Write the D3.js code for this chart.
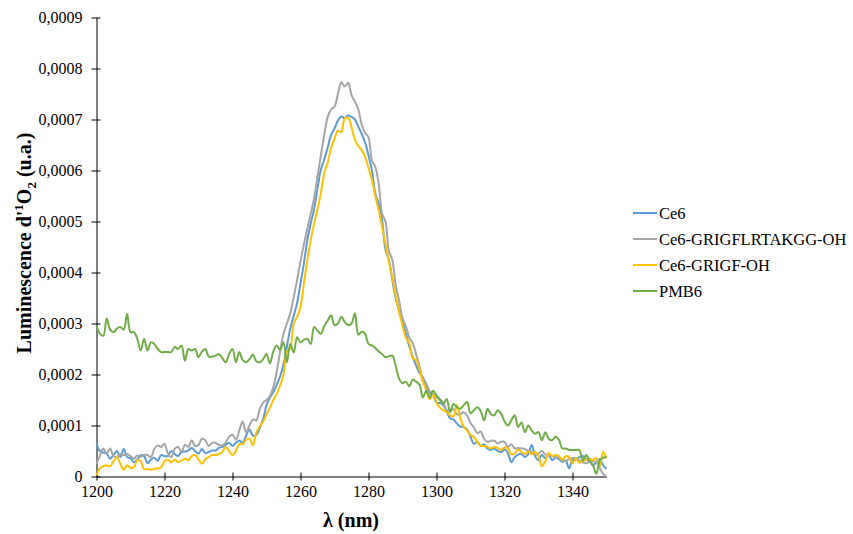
<!DOCTYPE html>
<html>
<head>
<meta charset="utf-8">
<script src="https://cdn.jsdelivr.net/npm/d3@7"></script>
<style>
  html, body { margin: 0; padding: 0; background: #fff; }
  svg { display: block; font-family: "Liberation Serif", "Times New Roman", serif; }
</style>
</head>
<body>
<svg id="chart" width="853" height="534"></svg>
<script>
// Wavelength grid (nm): 1200 .. 1350, 1 nm step
const lambdaStart = 1200;
const lambdaEnd = 1350;

// Series values, in units of 1e-4 (u.a.), one per nm from 1200 to 1350
const ce6 = [
  0.64,0.50,0.47,0.45,0.35,0.42,0.50,0.38,0.54,0.38,
  0.36,0.28,0.33,0.42,0.40,0.26,0.33,0.37,0.31,0.42,
  0.40,0.40,0.50,0.44,0.40,0.48,0.49,0.51,0.56,0.50,
  0.45,0.54,0.46,0.48,0.51,0.51,0.56,0.58,0.62,0.66,
  0.60,0.66,0.70,0.67,0.80,0.92,0.80,0.82,0.95,1.12,
  1.40,1.55,1.65,1.80,1.96,2.20,2.55,2.90,3.15,3.40,
  3.78,4.18,4.63,4.96,5.24,5.65,6.02,6.22,6.45,6.70,
  6.82,6.98,7.06,7.02,7.08,7.05,7.00,6.86,6.72,6.55,
  6.30,6.00,5.55,5.35,5.02,4.45,4.25,3.85,3.50,3.25,
  3.03,2.80,2.55,2.35,2.18,2.03,1.94,1.78,1.64,1.59,
  1.45,1.44,1.40,1.28,1.14,1.12,1.04,0.98,0.97,0.92,
  0.78,0.64,0.68,0.60,0.63,0.55,0.52,0.55,0.50,0.48,
  0.53,0.46,0.28,0.38,0.43,0.45,0.38,0.44,0.62,0.40,
  0.32,0.42,0.36,0.42,0.32,0.37,0.34,0.29,0.31,0.16,
  0.32,0.33,0.38,0.40,0.34,0.31,0.22,0.28,0.34,0.22,
  0.15
];
const ce6Grigflrtakgg = [
  0.25,0.40,0.55,0.45,0.55,0.40,0.38,0.44,0.42,0.44,
  0.40,0.35,0.41,0.39,0.42,0.42,0.38,0.54,0.61,0.58,
  0.64,0.45,0.38,0.54,0.58,0.48,0.62,0.58,0.71,0.60,
  0.62,0.74,0.71,0.60,0.66,0.66,0.62,0.61,0.67,0.78,
  0.82,0.72,0.90,1.08,0.86,1.00,1.12,1.10,1.32,1.45,
  1.50,1.58,1.75,2.05,2.45,2.80,3.00,3.20,3.52,3.85,
  4.22,4.55,4.86,5.15,5.45,5.88,6.30,6.70,7.05,7.20,
  7.25,7.50,7.73,7.65,7.72,7.48,7.35,7.20,6.90,6.74,
  6.65,6.20,6.07,5.74,5.15,5.00,4.42,4.25,3.75,3.45,
  3.10,2.95,2.72,2.62,2.40,2.16,1.92,1.82,1.67,1.62,
  1.55,1.52,1.45,1.30,1.30,1.32,1.22,1.22,1.26,1.20,
  1.05,0.96,0.85,0.88,0.74,0.68,0.70,0.70,0.65,0.68,
  0.68,0.58,0.63,0.55,0.56,0.55,0.54,0.50,0.48,0.42,
  0.45,0.50,0.43,0.42,0.40,0.38,0.36,0.34,0.31,0.34,
  0.36,0.36,0.31,0.28,0.26,0.29,0.30,0.28,0.17,0.05,
  0.00
];
const ce6Grigf = [
  0.02,0.16,0.20,0.22,0.20,0.30,0.38,0.25,0.13,0.22,
  0.17,0.18,0.32,0.30,0.14,0.15,0.13,0.15,0.16,0.18,
  0.30,0.33,0.28,0.33,0.28,0.31,0.35,0.32,0.40,0.42,
  0.34,0.25,0.34,0.38,0.42,0.42,0.44,0.48,0.58,0.50,
  0.42,0.50,0.64,0.63,0.72,0.74,0.61,0.86,0.98,1.08,
  1.22,1.35,1.50,1.62,1.78,2.00,2.45,2.52,3.00,3.13,
  3.32,3.78,4.24,4.63,4.96,5.24,5.56,5.95,6.15,6.45,
  6.62,6.78,6.75,7.02,7.03,6.85,6.60,6.48,6.40,6.27,
  6.05,5.82,5.50,5.22,4.90,4.55,4.22,3.90,3.55,3.22,
  2.96,2.72,2.62,2.32,2.28,2.10,1.86,1.70,1.52,1.60,
  1.45,1.35,1.30,1.26,1.20,1.18,1.40,1.15,0.98,0.90,
  0.82,0.77,0.68,0.60,0.60,0.58,0.55,0.58,0.56,0.52,
  0.57,0.55,0.44,0.45,0.53,0.48,0.44,0.49,0.44,0.48,
  0.40,0.20,0.30,0.46,0.40,0.42,0.40,0.32,0.40,0.38,
  0.26,0.36,0.27,0.30,0.33,0.35,0.32,0.36,0.20,0.48,
  0.36
];
const pmb6 = [
  2.96,2.80,2.76,3.10,2.88,2.83,2.90,2.93,2.88,3.19,
  2.83,2.83,2.70,2.47,2.70,2.47,2.63,2.60,2.50,2.44,
  2.44,2.44,2.44,2.54,2.50,2.57,2.27,2.50,2.47,2.50,
  2.34,2.45,2.50,2.35,2.35,2.37,2.40,2.32,2.24,2.40,
  2.50,2.24,2.44,2.28,2.24,2.30,2.39,2.26,2.24,2.30,
  2.40,2.22,2.45,2.57,2.48,2.63,2.24,2.60,2.43,2.73,
  2.63,2.68,2.70,2.60,2.93,2.86,2.80,2.95,3.06,3.16,
  2.97,3.00,3.13,3.03,2.97,3.00,3.20,2.78,2.84,2.80,
  2.60,2.57,2.52,2.45,2.40,2.34,2.36,2.37,2.17,1.92,
  1.83,1.86,1.77,1.90,1.86,1.80,1.55,1.68,1.55,1.68,
  1.59,1.50,1.42,1.52,1.26,1.42,1.36,1.33,1.40,1.46,
  1.24,1.30,1.36,1.28,1.10,1.33,1.22,1.20,1.30,1.23,
  1.08,1.00,1.10,1.20,0.97,1.06,0.87,1.00,0.90,0.84,
  0.87,0.71,0.87,0.74,0.71,0.78,0.72,0.55,0.55,0.52,
  0.52,0.52,0.52,0.31,0.42,0.31,0.22,0.05,0.31,0.37,
  0.38
];
const valueUnit = 1e-4;

const seriesNames = ["Ce6", "Ce6-GRIGFLRTAKGG-OH", "Ce6-GRIGF-OH", "PMB6"];
const seriesColors = ["#5B9BD5", "#A5A5A5", "#FFC000", "#70AD47"];
const seriesValues = [ce6, ce6Grigflrtakgg, ce6Grigf, pmb6];

const xTicks = [1200, 1220, 1240, 1260, 1280, 1300, 1320, 1340];
const yTicks = [0, 0.0001, 0.0002, 0.0003, 0.0004, 0.0005, 0.0006, 0.0007, 0.0008, 0.0009];
const yTickLabels = ["0", "0,0001", "0,0002", "0,0003", "0,0004", "0,0005", "0,0006", "0,0007", "0,0008", "0,0009"];

const svg = d3.select("#chart");
const FONT = "'Liberation Serif', 'Times New Roman', serif";

const x = d3.scaleLinear().domain([lambdaStart, lambdaEnd]).range([96.5, 606.5]);
const y = d3.scaleLinear().domain([0, 0.0009]).range([476.5, 17.5]);

// Axes
const xAxis = d3.axisBottom(x).tickValues(xTicks).tickSize(0).tickPadding(9).tickFormat(d3.format("d"));
const gx = svg.append("g").attr("transform", "translate(0,476.5)").call(xAxis);
gx.select(".domain").attr("stroke", "#000").attr("stroke-width", 1);
gx.selectAll(".tick line").remove();
gx.selectAll(".tick").append("line").attr("y1", -4).attr("y2", 4).attr("stroke", "#000");
gx.selectAll("text").attr("font-size", 16).attr("fill", "#000").attr("font-family", FONT);

const yAxis = d3.axisLeft(y).tickValues(yTicks).tickSize(0).tickPadding(14)
  .tickFormat((d, i) => yTickLabels[i]);
const gy = svg.append("g").attr("transform", "translate(96.5,0)").call(yAxis);
gy.select(".domain").attr("stroke", "#000").attr("stroke-width", 1);
gy.selectAll(".tick line").remove();
gy.selectAll(".tick").append("line").attr("x1", -5).attr("x2", 4).attr("stroke", "#000");
gy.selectAll("text").attr("font-size", 16).attr("fill", "#000").attr("font-family", FONT);

// Lines
const line = d3.line()
  .x((d, i) => x(lambdaStart + i))
  .y(d => y(d * valueUnit))
  .curve(d3.curveCatmullRom.alpha(0.5));

const plot = svg.append("g");
seriesValues.forEach((vals, k) => {
  plot.append("path")
    .datum(vals)
    .attr("fill", "none")
    .attr("stroke", seriesColors[k])
    .attr("stroke-width", 2)
    .attr("stroke-linejoin", "round")
    .attr("d", line);
});

// Axis titles
svg.append("text")
  .attr("x", 351).attr("y", 527)
  .attr("text-anchor", "middle")
  .attr("font-family", FONT)
  .attr("font-size", 20).attr("font-weight", "bold")
  .text("λ (nm)");

const yt = svg.append("text")
  .attr("transform", "translate(31,243) rotate(-90)")
  .attr("text-anchor", "middle")
  .attr("font-family", FONT)
  .attr("font-size", 20).attr("font-weight", "bold");
yt.append("tspan").text("Luminescence d'");
yt.append("tspan").attr("font-size", 13).attr("dy", -8).text("1");
yt.append("tspan").attr("dy", 8).text("O");
yt.append("tspan").attr("font-size", 13).attr("dy", 5).text("2");
yt.append("tspan").attr("dy", -5).text(" (u.a.)");

// Legend
const legend = svg.append("g");
seriesNames.forEach((name, k) => {
  const ly = 213 + k * 26;
  legend.append("line")
    .attr("x1", 633).attr("x2", 657).attr("y1", ly).attr("y2", ly)
    .attr("stroke", seriesColors[k]).attr("stroke-width", 2);
  legend.append("text")
    .attr("x", 659).attr("y", ly + 5.5)
    .attr("font-family", FONT)
    .attr("font-size", 16.5).attr("fill", "#000")
    .text(name);
});
</script>
</body>
</html>
